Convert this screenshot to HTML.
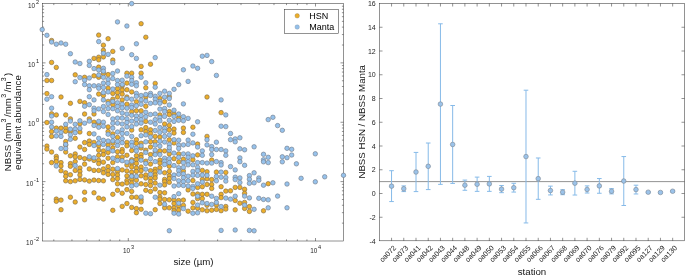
<!DOCTYPE html><html><head><meta charset="utf-8"><style>html,body{margin:0;padding:0;background:#fff;}body{width:685px;height:275px;overflow:hidden;}svg{display:block;}text{font-family:"Liberation Sans", sans-serif;}svg{will-change:transform;}</style></head><body><svg width="685" height="275" viewBox="0 0 685 275"><rect width="685" height="275" fill="#fff"/><g stroke="#262626" stroke-width="0.5" fill="none"><rect x="42.5" y="3.5" width="301.0" height="237.5"/><path d="M53.81 241.0V239.4M53.81 3.5V5.1"/><path d="M71.95 241.0V239.4M71.95 3.5V5.1"/><path d="M86.77 241.0V239.4M86.77 3.5V5.1"/><path d="M99.30 241.0V239.4M99.30 3.5V5.1"/><path d="M110.16 241.0V239.4M110.16 3.5V5.1"/><path d="M119.73 241.0V239.4M119.73 3.5V5.1"/><path d="M128.30 241.0V238.0M128.30 3.5V6.5"/><path d="M184.65 241.0V239.4M184.65 3.5V5.1"/><path d="M217.62 241.0V239.4M217.62 3.5V5.1"/><path d="M241.01 241.0V239.4M241.01 3.5V5.1"/><path d="M259.15 241.0V239.4M259.15 3.5V5.1"/><path d="M273.97 241.0V239.4M273.97 3.5V5.1"/><path d="M286.50 241.0V239.4M286.50 3.5V5.1"/><path d="M297.36 241.0V239.4M297.36 3.5V5.1"/><path d="M306.93 241.0V239.4M306.93 3.5V5.1"/><path d="M315.50 241.0V238.0M315.50 3.5V6.5"/><path d="M42.5 223.13H44.1M343.5 223.13H341.9"/><path d="M42.5 212.67H44.1M343.5 212.67H341.9"/><path d="M42.5 205.25H44.1M343.5 205.25H341.9"/><path d="M42.5 199.50H44.1M343.5 199.50H341.9"/><path d="M42.5 194.80H44.1M343.5 194.80H341.9"/><path d="M42.5 190.82H44.1M343.5 190.82H341.9"/><path d="M42.5 187.38H44.1M343.5 187.38H341.9"/><path d="M42.5 184.34H44.1M343.5 184.34H341.9"/><path d="M42.5 181.62H45.5M343.5 181.62H340.5"/><path d="M42.5 163.75H44.1M343.5 163.75H341.9"/><path d="M42.5 153.30H44.1M343.5 153.30H341.9"/><path d="M42.5 145.88H44.1M343.5 145.88H341.9"/><path d="M42.5 140.12H44.1M343.5 140.12H341.9"/><path d="M42.5 135.42H44.1M343.5 135.42H341.9"/><path d="M42.5 131.45H44.1M343.5 131.45H341.9"/><path d="M42.5 128.00H44.1M343.5 128.00H341.9"/><path d="M42.5 124.97H44.1M343.5 124.97H341.9"/><path d="M42.5 122.25H45.5M343.5 122.25H340.5"/><path d="M42.5 104.38H44.1M343.5 104.38H341.9"/><path d="M42.5 93.92H44.1M343.5 93.92H341.9"/><path d="M42.5 86.50H44.1M343.5 86.50H341.9"/><path d="M42.5 80.75H44.1M343.5 80.75H341.9"/><path d="M42.5 76.05H44.1M343.5 76.05H341.9"/><path d="M42.5 72.07H44.1M343.5 72.07H341.9"/><path d="M42.5 68.63H44.1M343.5 68.63H341.9"/><path d="M42.5 65.59H44.1M343.5 65.59H341.9"/><path d="M42.5 62.88H45.5M343.5 62.88H340.5"/><path d="M42.5 45.00H44.1M343.5 45.00H341.9"/><path d="M42.5 34.55H44.1M343.5 34.55H341.9"/><path d="M42.5 27.13H44.1M343.5 27.13H341.9"/><path d="M42.5 21.37H44.1M343.5 21.37H341.9"/><path d="M42.5 16.67H44.1M343.5 16.67H341.9"/><path d="M42.5 12.70H44.1M343.5 12.70H341.9"/><path d="M42.5 9.25H44.1M343.5 9.25H341.9"/><path d="M42.5 6.22H44.1M343.5 6.22H341.9"/></g><g><g fill="#ECAE2A" stroke="#806d4c" stroke-width="0.7" stroke-opacity="0.9"><circle cx="51.6" cy="40.5" r="2.25"/><circle cx="98.7" cy="35.1" r="2.25"/><circle cx="108.1" cy="38.7" r="2.25"/><circle cx="141.1" cy="23.7" r="2.25"/><circle cx="51.6" cy="62.4" r="2.25"/><circle cx="56.3" cy="67.4" r="2.25"/><circle cx="94.0" cy="58.4" r="2.25"/><circle cx="98.7" cy="57.2" r="2.25"/><circle cx="98.7" cy="59.8" r="2.25"/><circle cx="98.7" cy="67.1" r="2.25"/><circle cx="103.4" cy="45.2" r="2.25"/><circle cx="103.4" cy="50.3" r="2.25"/><circle cx="103.4" cy="56.9" r="2.25"/><circle cx="103.4" cy="73.5" r="2.25"/><circle cx="108.1" cy="74.6" r="2.25"/><circle cx="112.8" cy="51.4" r="2.25"/><circle cx="112.8" cy="60.1" r="2.25"/><circle cx="126.9" cy="73.2" r="2.25"/><circle cx="131.7" cy="73.2" r="2.25"/><circle cx="141.1" cy="66.4" r="2.25"/><circle cx="75.2" cy="74.8" r="2.25"/><circle cx="46.9" cy="80.5" r="2.25"/><circle cx="46.9" cy="93.6" r="2.25"/><circle cx="51.6" cy="80.5" r="2.25"/><circle cx="61.0" cy="97.0" r="2.25"/><circle cx="70.4" cy="103.3" r="2.25"/><circle cx="79.9" cy="101.4" r="2.25"/><circle cx="84.6" cy="77.3" r="2.25"/><circle cx="84.6" cy="102.8" r="2.25"/><circle cx="94.0" cy="75.8" r="2.25"/><circle cx="98.7" cy="77.3" r="2.25"/><circle cx="98.7" cy="94.1" r="2.25"/><circle cx="103.4" cy="95.5" r="2.25"/><circle cx="108.1" cy="88.2" r="2.25"/><circle cx="108.1" cy="101.4" r="2.25"/><circle cx="112.8" cy="93.4" r="2.25"/><circle cx="112.8" cy="99.2" r="2.25"/><circle cx="112.8" cy="104.8" r="2.25"/><circle cx="117.5" cy="88.7" r="2.25"/><circle cx="117.5" cy="92.6" r="2.25"/><circle cx="117.5" cy="97.0" r="2.25"/><circle cx="122.2" cy="86.1" r="2.25"/><circle cx="122.2" cy="90.1" r="2.25"/><circle cx="122.2" cy="94.1" r="2.25"/><circle cx="122.2" cy="99.9" r="2.25"/><circle cx="126.9" cy="83.1" r="2.25"/><circle cx="126.9" cy="89.7" r="2.25"/><circle cx="126.9" cy="97.0" r="2.25"/><circle cx="126.9" cy="104.2" r="2.25"/><circle cx="131.7" cy="91.9" r="2.25"/><circle cx="136.4" cy="101.8" r="2.25"/><circle cx="46.9" cy="122.5" r="2.25"/><circle cx="51.6" cy="113.8" r="2.25"/><circle cx="51.6" cy="131.6" r="2.25"/><circle cx="51.6" cy="136.4" r="2.25"/><circle cx="56.3" cy="114.9" r="2.25"/><circle cx="56.3" cy="128.1" r="2.25"/><circle cx="61.0" cy="128.1" r="2.25"/><circle cx="65.7" cy="114.9" r="2.25"/><circle cx="65.7" cy="128.1" r="2.25"/><circle cx="65.7" cy="131.3" r="2.25"/><circle cx="65.7" cy="141.5" r="2.25"/><circle cx="70.4" cy="118.9" r="2.25"/><circle cx="70.4" cy="131.3" r="2.25"/><circle cx="75.2" cy="138.3" r="2.25"/><circle cx="79.9" cy="123.7" r="2.25"/><circle cx="79.9" cy="132.0" r="2.25"/><circle cx="84.6" cy="114.0" r="2.25"/><circle cx="84.6" cy="142.6" r="2.25"/><circle cx="89.3" cy="118.9" r="2.25"/><circle cx="89.3" cy="133.5" r="2.25"/><circle cx="89.3" cy="141.0" r="2.25"/><circle cx="94.0" cy="114.0" r="2.25"/><circle cx="94.0" cy="122.2" r="2.25"/><circle cx="94.0" cy="142.4" r="2.25"/><circle cx="98.7" cy="123.2" r="2.25"/><circle cx="108.1" cy="126.9" r="2.25"/><circle cx="108.1" cy="131.6" r="2.25"/><circle cx="112.8" cy="133.9" r="2.25"/><circle cx="112.8" cy="143.1" r="2.25"/><circle cx="117.5" cy="137.4" r="2.25"/><circle cx="126.9" cy="142.4" r="2.25"/><circle cx="131.7" cy="111.6" r="2.25"/><circle cx="131.7" cy="130.1" r="2.25"/><circle cx="136.4" cy="110.8" r="2.25"/><circle cx="136.4" cy="139.7" r="2.25"/><circle cx="136.4" cy="143.3" r="2.25"/><circle cx="46.9" cy="146.1" r="2.25"/><circle cx="46.9" cy="149.0" r="2.25"/><circle cx="51.6" cy="152.0" r="2.25"/><circle cx="51.6" cy="162.6" r="2.25"/><circle cx="56.3" cy="156.4" r="2.25"/><circle cx="56.3" cy="158.7" r="2.25"/><circle cx="56.3" cy="161.6" r="2.25"/><circle cx="61.0" cy="162.6" r="2.25"/><circle cx="61.0" cy="166.0" r="2.25"/><circle cx="61.0" cy="170.7" r="2.25"/><circle cx="65.7" cy="145.1" r="2.25"/><circle cx="65.7" cy="152.0" r="2.25"/><circle cx="65.7" cy="172.8" r="2.25"/><circle cx="65.7" cy="176.3" r="2.25"/><circle cx="70.4" cy="155.8" r="2.25"/><circle cx="70.4" cy="163.6" r="2.25"/><circle cx="70.4" cy="166.3" r="2.25"/><circle cx="70.4" cy="174.8" r="2.25"/><circle cx="75.2" cy="153.9" r="2.25"/><circle cx="75.2" cy="156.8" r="2.25"/><circle cx="75.2" cy="161.6" r="2.25"/><circle cx="75.2" cy="170.4" r="2.25"/><circle cx="79.9" cy="147.0" r="2.25"/><circle cx="79.9" cy="157.5" r="2.25"/><circle cx="79.9" cy="168.0" r="2.25"/><circle cx="79.9" cy="171.4" r="2.25"/><circle cx="79.9" cy="175.0" r="2.25"/><circle cx="84.6" cy="149.5" r="2.25"/><circle cx="84.6" cy="158.7" r="2.25"/><circle cx="84.6" cy="164.1" r="2.25"/><circle cx="84.6" cy="179.9" r="2.25"/><circle cx="89.3" cy="144.4" r="2.25"/><circle cx="89.3" cy="159.0" r="2.25"/><circle cx="89.3" cy="168.9" r="2.25"/><circle cx="94.0" cy="160.4" r="2.25"/><circle cx="94.0" cy="170.4" r="2.25"/><circle cx="98.7" cy="145.8" r="2.25"/><circle cx="98.7" cy="150.2" r="2.25"/><circle cx="98.7" cy="155.3" r="2.25"/><circle cx="98.7" cy="160.4" r="2.25"/><circle cx="98.7" cy="163.6" r="2.25"/><circle cx="98.7" cy="170.4" r="2.25"/><circle cx="103.4" cy="150.9" r="2.25"/><circle cx="103.4" cy="154.6" r="2.25"/><circle cx="103.4" cy="162.2" r="2.25"/><circle cx="103.4" cy="168.9" r="2.25"/><circle cx="103.4" cy="172.8" r="2.25"/><circle cx="108.1" cy="145.1" r="2.25"/><circle cx="108.1" cy="152.4" r="2.25"/><circle cx="108.1" cy="158.2" r="2.25"/><circle cx="108.1" cy="166.6" r="2.25"/><circle cx="108.1" cy="170.7" r="2.25"/><circle cx="108.1" cy="174.4" r="2.25"/><circle cx="112.8" cy="148.0" r="2.25"/><circle cx="112.8" cy="162.6" r="2.25"/><circle cx="112.8" cy="169.2" r="2.25"/><circle cx="112.8" cy="174.4" r="2.25"/><circle cx="112.8" cy="179.6" r="2.25"/><circle cx="117.5" cy="151.7" r="2.25"/><circle cx="117.5" cy="156.8" r="2.25"/><circle cx="117.5" cy="171.4" r="2.25"/><circle cx="117.5" cy="175.0" r="2.25"/><circle cx="122.2" cy="149.5" r="2.25"/><circle cx="122.2" cy="152.0" r="2.25"/><circle cx="122.2" cy="157.2" r="2.25"/><circle cx="122.2" cy="169.9" r="2.25"/><circle cx="126.9" cy="145.8" r="2.25"/><circle cx="126.9" cy="155.3" r="2.25"/><circle cx="126.9" cy="165.1" r="2.25"/><circle cx="126.9" cy="170.9" r="2.25"/><circle cx="126.9" cy="175.9" r="2.25"/><circle cx="131.7" cy="150.5" r="2.25"/><circle cx="131.7" cy="159.7" r="2.25"/><circle cx="131.7" cy="163.4" r="2.25"/><circle cx="131.7" cy="167.0" r="2.25"/><circle cx="131.7" cy="172.1" r="2.25"/><circle cx="131.7" cy="176.2" r="2.25"/><circle cx="131.7" cy="179.2" r="2.25"/><circle cx="136.4" cy="155.8" r="2.25"/><circle cx="136.4" cy="159.7" r="2.25"/><circle cx="136.4" cy="163.4" r="2.25"/><circle cx="136.4" cy="168.0" r="2.25"/><circle cx="136.4" cy="171.4" r="2.25"/><circle cx="56.3" cy="199.1" r="2.25"/><circle cx="56.3" cy="201.3" r="2.25"/><circle cx="61.0" cy="200.1" r="2.25"/><circle cx="61.0" cy="209.7" r="2.25"/><circle cx="65.7" cy="180.8" r="2.25"/><circle cx="70.4" cy="181.6" r="2.25"/><circle cx="70.4" cy="197.2" r="2.25"/><circle cx="75.2" cy="180.8" r="2.25"/><circle cx="75.2" cy="202.0" r="2.25"/><circle cx="79.9" cy="179.4" r="2.25"/><circle cx="84.6" cy="192.2" r="2.25"/><circle cx="84.6" cy="199.8" r="2.25"/><circle cx="89.3" cy="181.1" r="2.25"/><circle cx="94.0" cy="180.1" r="2.25"/><circle cx="94.0" cy="192.8" r="2.25"/><circle cx="98.7" cy="180.5" r="2.25"/><circle cx="98.7" cy="198.1" r="2.25"/><circle cx="103.4" cy="180.8" r="2.25"/><circle cx="103.4" cy="199.1" r="2.25"/><circle cx="112.8" cy="194.3" r="2.25"/><circle cx="112.8" cy="210.3" r="2.25"/><circle cx="117.5" cy="178.6" r="2.25"/><circle cx="117.5" cy="183.8" r="2.25"/><circle cx="117.5" cy="190.3" r="2.25"/><circle cx="122.2" cy="184.1" r="2.25"/><circle cx="122.2" cy="193.2" r="2.25"/><circle cx="122.2" cy="206.4" r="2.25"/><circle cx="126.9" cy="180.5" r="2.25"/><circle cx="126.9" cy="183.0" r="2.25"/><circle cx="126.9" cy="189.6" r="2.25"/><circle cx="126.9" cy="203.5" r="2.25"/><circle cx="131.7" cy="183.0" r="2.25"/><circle cx="131.7" cy="191.4" r="2.25"/><circle cx="131.7" cy="197.2" r="2.25"/><circle cx="131.7" cy="207.4" r="2.25"/><circle cx="136.4" cy="180.1" r="2.25"/><circle cx="136.4" cy="197.2" r="2.25"/><circle cx="136.4" cy="208.6" r="2.25"/><circle cx="136.4" cy="212.7" r="2.25"/><circle cx="145.8" cy="37.2" r="2.25"/><circle cx="150.5" cy="64.2" r="2.25"/><circle cx="141.1" cy="73.2" r="2.25"/><circle cx="145.8" cy="87.8" r="2.25"/><circle cx="145.8" cy="97.0" r="2.25"/><circle cx="145.8" cy="106.3" r="2.25"/><circle cx="155.2" cy="83.4" r="2.25"/><circle cx="159.9" cy="98.5" r="2.25"/><circle cx="164.6" cy="101.8" r="2.25"/><circle cx="169.3" cy="96.6" r="2.25"/><circle cx="207.0" cy="97.0" r="2.25"/><circle cx="141.1" cy="110.8" r="2.25"/><circle cx="141.1" cy="129.8" r="2.25"/><circle cx="141.1" cy="143.2" r="2.25"/><circle cx="145.8" cy="121.4" r="2.25"/><circle cx="145.8" cy="127.6" r="2.25"/><circle cx="145.8" cy="131.6" r="2.25"/><circle cx="150.5" cy="129.8" r="2.25"/><circle cx="150.5" cy="133.5" r="2.25"/><circle cx="150.5" cy="141.7" r="2.25"/><circle cx="155.2" cy="136.4" r="2.25"/><circle cx="155.2" cy="141.7" r="2.25"/><circle cx="159.9" cy="114.9" r="2.25"/><circle cx="159.9" cy="137.1" r="2.25"/><circle cx="164.6" cy="124.0" r="2.25"/><circle cx="169.3" cy="111.6" r="2.25"/><circle cx="169.3" cy="114.5" r="2.25"/><circle cx="169.3" cy="125.4" r="2.25"/><circle cx="169.3" cy="129.8" r="2.25"/><circle cx="169.3" cy="139.8" r="2.25"/><circle cx="174.0" cy="114.0" r="2.25"/><circle cx="174.0" cy="129.1" r="2.25"/><circle cx="174.0" cy="133.0" r="2.25"/><circle cx="174.0" cy="142.9" r="2.25"/><circle cx="178.7" cy="117.8" r="2.25"/><circle cx="183.4" cy="128.1" r="2.25"/><circle cx="183.4" cy="132.4" r="2.25"/><circle cx="192.9" cy="127.2" r="2.25"/><circle cx="197.6" cy="144.1" r="2.25"/><circle cx="207.0" cy="136.4" r="2.25"/><circle cx="221.1" cy="112.6" r="2.25"/><circle cx="141.1" cy="148.0" r="2.25"/><circle cx="141.1" cy="154.6" r="2.25"/><circle cx="141.1" cy="157.5" r="2.25"/><circle cx="141.1" cy="167.0" r="2.25"/><circle cx="141.1" cy="170.7" r="2.25"/><circle cx="141.1" cy="175.8" r="2.25"/><circle cx="145.8" cy="150.2" r="2.25"/><circle cx="145.8" cy="161.2" r="2.25"/><circle cx="145.8" cy="175.0" r="2.25"/><circle cx="145.8" cy="178.1" r="2.25"/><circle cx="150.5" cy="147.0" r="2.25"/><circle cx="150.5" cy="154.6" r="2.25"/><circle cx="150.5" cy="164.1" r="2.25"/><circle cx="150.5" cy="170.7" r="2.25"/><circle cx="150.5" cy="178.1" r="2.25"/><circle cx="155.2" cy="152.4" r="2.25"/><circle cx="155.2" cy="169.2" r="2.25"/><circle cx="155.2" cy="171.8" r="2.25"/><circle cx="155.2" cy="175.0" r="2.25"/><circle cx="159.9" cy="150.9" r="2.25"/><circle cx="159.9" cy="160.1" r="2.25"/><circle cx="159.9" cy="163.1" r="2.25"/><circle cx="159.9" cy="167.7" r="2.25"/><circle cx="164.6" cy="150.9" r="2.25"/><circle cx="164.6" cy="172.8" r="2.25"/><circle cx="169.3" cy="153.9" r="2.25"/><circle cx="169.3" cy="166.3" r="2.25"/><circle cx="169.3" cy="171.4" r="2.25"/><circle cx="169.3" cy="175.8" r="2.25"/><circle cx="174.0" cy="158.7" r="2.25"/><circle cx="178.7" cy="153.9" r="2.25"/><circle cx="178.7" cy="161.9" r="2.25"/><circle cx="183.4" cy="159.3" r="2.25"/><circle cx="183.4" cy="171.0" r="2.25"/><circle cx="192.9" cy="159.7" r="2.25"/><circle cx="197.6" cy="154.9" r="2.25"/><circle cx="202.3" cy="170.4" r="2.25"/><circle cx="207.0" cy="171.8" r="2.25"/><circle cx="207.0" cy="178.8" r="2.25"/><circle cx="211.7" cy="160.1" r="2.25"/><circle cx="211.7" cy="179.6" r="2.25"/><circle cx="216.4" cy="172.1" r="2.25"/><circle cx="225.8" cy="172.4" r="2.25"/><circle cx="141.1" cy="183.8" r="2.25"/><circle cx="141.1" cy="199.5" r="2.25"/><circle cx="141.1" cy="202.0" r="2.25"/><circle cx="141.1" cy="209.3" r="2.25"/><circle cx="145.8" cy="184.5" r="2.25"/><circle cx="145.8" cy="190.3" r="2.25"/><circle cx="150.5" cy="181.6" r="2.25"/><circle cx="150.5" cy="185.5" r="2.25"/><circle cx="150.5" cy="191.4" r="2.25"/><circle cx="155.2" cy="177.9" r="2.25"/><circle cx="155.2" cy="183.0" r="2.25"/><circle cx="155.2" cy="188.9" r="2.25"/><circle cx="155.2" cy="209.7" r="2.25"/><circle cx="159.9" cy="192.5" r="2.25"/><circle cx="159.9" cy="196.9" r="2.25"/><circle cx="159.9" cy="199.1" r="2.25"/><circle cx="159.9" cy="203.5" r="2.25"/><circle cx="164.6" cy="179.4" r="2.25"/><circle cx="164.6" cy="181.6" r="2.25"/><circle cx="164.6" cy="184.9" r="2.25"/><circle cx="164.6" cy="192.8" r="2.25"/><circle cx="164.6" cy="199.5" r="2.25"/><circle cx="164.6" cy="207.8" r="2.25"/><circle cx="169.3" cy="178.6" r="2.25"/><circle cx="169.3" cy="182.3" r="2.25"/><circle cx="169.3" cy="199.8" r="2.25"/><circle cx="169.3" cy="207.8" r="2.25"/><circle cx="174.0" cy="199.8" r="2.25"/><circle cx="174.0" cy="203.6" r="2.25"/><circle cx="174.0" cy="207.8" r="2.25"/><circle cx="174.0" cy="210.8" r="2.25"/><circle cx="178.7" cy="200.5" r="2.25"/><circle cx="178.7" cy="205.9" r="2.25"/><circle cx="178.7" cy="210.0" r="2.25"/><circle cx="183.4" cy="200.1" r="2.25"/><circle cx="183.4" cy="205.4" r="2.25"/><circle cx="188.1" cy="189.9" r="2.25"/><circle cx="188.1" cy="211.2" r="2.25"/><circle cx="192.9" cy="180.5" r="2.25"/><circle cx="192.9" cy="194.0" r="2.25"/><circle cx="192.9" cy="202.4" r="2.25"/><circle cx="192.9" cy="207.9" r="2.25"/><circle cx="197.6" cy="187.4" r="2.25"/><circle cx="197.6" cy="194.0" r="2.25"/><circle cx="197.6" cy="198.6" r="2.25"/><circle cx="197.6" cy="208.2" r="2.25"/><circle cx="202.3" cy="179.4" r="2.25"/><circle cx="202.3" cy="186.7" r="2.25"/><circle cx="202.3" cy="194.3" r="2.25"/><circle cx="202.3" cy="198.6" r="2.25"/><circle cx="202.3" cy="209.8" r="2.25"/><circle cx="207.0" cy="184.5" r="2.25"/><circle cx="207.0" cy="194.3" r="2.25"/><circle cx="207.0" cy="205.3" r="2.25"/><circle cx="207.0" cy="210.8" r="2.25"/><circle cx="211.7" cy="184.5" r="2.25"/><circle cx="211.7" cy="188.4" r="2.25"/><circle cx="211.7" cy="210.2" r="2.25"/><circle cx="216.4" cy="205.0" r="2.25"/><circle cx="216.4" cy="209.4" r="2.25"/><circle cx="221.1" cy="186.7" r="2.25"/><circle cx="221.1" cy="194.3" r="2.25"/><circle cx="221.1" cy="197.6" r="2.25"/><circle cx="221.1" cy="210.7" r="2.25"/><circle cx="225.8" cy="191.1" r="2.25"/><circle cx="225.8" cy="206.5" r="2.25"/><circle cx="230.5" cy="190.8" r="2.25"/><circle cx="235.2" cy="187.4" r="2.25"/><circle cx="235.2" cy="200.5" r="2.25"/><circle cx="235.2" cy="209.8" r="2.25"/><circle cx="239.9" cy="187.4" r="2.25"/><circle cx="225.8" cy="209.1" r="2.25"/><circle cx="239.9" cy="203.2" r="2.25"/><circle cx="249.4" cy="206.6" r="2.25"/><circle cx="249.4" cy="211.4" r="2.25"/><circle cx="263.5" cy="210.8" r="2.25"/><circle cx="268.2" cy="183.7" r="2.25"/><circle cx="244.6" cy="189.3" r="2.25"/><circle cx="244.6" cy="193.3" r="2.25"/><circle cx="244.6" cy="202.4" r="2.25"/><circle cx="244.6" cy="208.4" r="2.25"/></g><g fill="#96C2EC" stroke="#737d89" stroke-width="0.7" stroke-opacity="0.9"><circle cx="42.2" cy="29.6" r="2.25"/><circle cx="46.9" cy="35.3" r="2.25"/><circle cx="117.5" cy="21.9" r="2.25"/><circle cx="126.9" cy="26.0" r="2.25"/><circle cx="131.7" cy="3.6" r="2.25"/><circle cx="51.6" cy="42.0" r="2.25"/><circle cx="56.3" cy="44.2" r="2.25"/><circle cx="61.0" cy="43.0" r="2.25"/><circle cx="65.7" cy="44.2" r="2.25"/><circle cx="70.4" cy="53.7" r="2.25"/><circle cx="75.2" cy="62.0" r="2.25"/><circle cx="79.9" cy="63.5" r="2.25"/><circle cx="89.3" cy="61.3" r="2.25"/><circle cx="89.3" cy="65.4" r="2.25"/><circle cx="94.0" cy="68.6" r="2.25"/><circle cx="98.7" cy="41.6" r="2.25"/><circle cx="98.7" cy="70.0" r="2.25"/><circle cx="103.4" cy="53.2" r="2.25"/><circle cx="103.4" cy="68.3" r="2.25"/><circle cx="103.4" cy="71.2" r="2.25"/><circle cx="108.1" cy="54.4" r="2.25"/><circle cx="112.8" cy="62.7" r="2.25"/><circle cx="112.8" cy="73.5" r="2.25"/><circle cx="117.5" cy="71.0" r="2.25"/><circle cx="122.2" cy="48.4" r="2.25"/><circle cx="131.7" cy="54.7" r="2.25"/><circle cx="136.4" cy="43.8" r="2.25"/><circle cx="136.4" cy="58.4" r="2.25"/><circle cx="46.9" cy="74.6" r="2.25"/><circle cx="46.9" cy="99.2" r="2.25"/><circle cx="51.6" cy="96.7" r="2.25"/><circle cx="51.6" cy="108.2" r="2.25"/><circle cx="75.2" cy="81.7" r="2.25"/><circle cx="79.9" cy="77.6" r="2.25"/><circle cx="84.6" cy="80.2" r="2.25"/><circle cx="84.6" cy="84.6" r="2.25"/><circle cx="84.6" cy="106.2" r="2.25"/><circle cx="89.3" cy="78.0" r="2.25"/><circle cx="89.3" cy="85.8" r="2.25"/><circle cx="89.3" cy="89.7" r="2.25"/><circle cx="89.3" cy="96.7" r="2.25"/><circle cx="89.3" cy="104.7" r="2.25"/><circle cx="94.0" cy="85.8" r="2.25"/><circle cx="94.0" cy="99.9" r="2.25"/><circle cx="94.0" cy="108.2" r="2.25"/><circle cx="98.7" cy="75.1" r="2.25"/><circle cx="98.7" cy="85.8" r="2.25"/><circle cx="98.7" cy="88.2" r="2.25"/><circle cx="98.7" cy="108.9" r="2.25"/><circle cx="103.4" cy="77.3" r="2.25"/><circle cx="103.4" cy="83.1" r="2.25"/><circle cx="103.4" cy="87.5" r="2.25"/><circle cx="103.4" cy="92.6" r="2.25"/><circle cx="103.4" cy="99.9" r="2.25"/><circle cx="103.4" cy="106.5" r="2.25"/><circle cx="108.1" cy="79.5" r="2.25"/><circle cx="108.1" cy="83.4" r="2.25"/><circle cx="108.1" cy="91.9" r="2.25"/><circle cx="108.1" cy="103.6" r="2.25"/><circle cx="112.8" cy="78.5" r="2.25"/><circle cx="112.8" cy="89.0" r="2.25"/><circle cx="112.8" cy="101.4" r="2.25"/><circle cx="112.8" cy="108.7" r="2.25"/><circle cx="117.5" cy="80.5" r="2.25"/><circle cx="117.5" cy="84.6" r="2.25"/><circle cx="117.5" cy="102.8" r="2.25"/><circle cx="117.5" cy="106.5" r="2.25"/><circle cx="122.2" cy="80.2" r="2.25"/><circle cx="122.2" cy="84.6" r="2.25"/><circle cx="122.2" cy="104.3" r="2.25"/><circle cx="126.9" cy="76.1" r="2.25"/><circle cx="126.9" cy="98.5" r="2.25"/><circle cx="126.9" cy="108.2" r="2.25"/><circle cx="131.7" cy="77.3" r="2.25"/><circle cx="131.7" cy="80.5" r="2.25"/><circle cx="131.7" cy="84.3" r="2.25"/><circle cx="131.7" cy="99.2" r="2.25"/><circle cx="131.7" cy="105.0" r="2.25"/><circle cx="131.7" cy="107.6" r="2.25"/><circle cx="136.4" cy="82.8" r="2.25"/><circle cx="136.4" cy="85.8" r="2.25"/><circle cx="136.4" cy="93.4" r="2.25"/><circle cx="136.4" cy="96.3" r="2.25"/><circle cx="136.4" cy="105.8" r="2.25"/><circle cx="141.1" cy="77.3" r="2.25"/><circle cx="51.6" cy="116.0" r="2.25"/><circle cx="51.6" cy="122.2" r="2.25"/><circle cx="51.6" cy="126.9" r="2.25"/><circle cx="56.3" cy="131.0" r="2.25"/><circle cx="56.3" cy="136.0" r="2.25"/><circle cx="61.0" cy="132.4" r="2.25"/><circle cx="61.0" cy="136.4" r="2.25"/><circle cx="65.7" cy="124.3" r="2.25"/><circle cx="65.7" cy="144.4" r="2.25"/><circle cx="70.4" cy="121.1" r="2.25"/><circle cx="70.4" cy="129.1" r="2.25"/><circle cx="70.4" cy="134.9" r="2.25"/><circle cx="70.4" cy="139.3" r="2.25"/><circle cx="75.2" cy="124.3" r="2.25"/><circle cx="75.2" cy="129.1" r="2.25"/><circle cx="75.2" cy="132.7" r="2.25"/><circle cx="79.9" cy="120.8" r="2.25"/><circle cx="79.9" cy="128.4" r="2.25"/><circle cx="84.6" cy="123.2" r="2.25"/><circle cx="89.3" cy="121.1" r="2.25"/><circle cx="94.0" cy="110.8" r="2.25"/><circle cx="94.0" cy="125.4" r="2.25"/><circle cx="94.0" cy="133.9" r="2.25"/><circle cx="98.7" cy="121.4" r="2.25"/><circle cx="98.7" cy="127.2" r="2.25"/><circle cx="98.7" cy="138.3" r="2.25"/><circle cx="98.7" cy="143.1" r="2.25"/><circle cx="103.4" cy="111.6" r="2.25"/><circle cx="103.4" cy="122.2" r="2.25"/><circle cx="103.4" cy="126.2" r="2.25"/><circle cx="103.4" cy="140.3" r="2.25"/><circle cx="108.1" cy="108.6" r="2.25"/><circle cx="108.1" cy="114.5" r="2.25"/><circle cx="108.1" cy="134.2" r="2.25"/><circle cx="108.1" cy="141.0" r="2.25"/><circle cx="112.8" cy="118.9" r="2.25"/><circle cx="112.8" cy="123.2" r="2.25"/><circle cx="112.8" cy="128.1" r="2.25"/><circle cx="112.8" cy="136.4" r="2.25"/><circle cx="112.8" cy="140.9" r="2.25"/><circle cx="117.5" cy="110.8" r="2.25"/><circle cx="117.5" cy="118.1" r="2.25"/><circle cx="117.5" cy="123.2" r="2.25"/><circle cx="117.5" cy="132.0" r="2.25"/><circle cx="117.5" cy="141.5" r="2.25"/><circle cx="122.2" cy="107.9" r="2.25"/><circle cx="122.2" cy="113.0" r="2.25"/><circle cx="122.2" cy="118.1" r="2.25"/><circle cx="122.2" cy="124.0" r="2.25"/><circle cx="122.2" cy="129.8" r="2.25"/><circle cx="122.2" cy="133.5" r="2.25"/><circle cx="122.2" cy="138.6" r="2.25"/><circle cx="122.2" cy="142.7" r="2.25"/><circle cx="126.9" cy="114.0" r="2.25"/><circle cx="126.9" cy="118.9" r="2.25"/><circle cx="126.9" cy="122.5" r="2.25"/><circle cx="126.9" cy="126.9" r="2.25"/><circle cx="126.9" cy="133.5" r="2.25"/><circle cx="131.7" cy="115.2" r="2.25"/><circle cx="131.7" cy="121.1" r="2.25"/><circle cx="131.7" cy="126.6" r="2.25"/><circle cx="131.7" cy="136.4" r="2.25"/><circle cx="131.7" cy="142.2" r="2.25"/><circle cx="136.4" cy="116.0" r="2.25"/><circle cx="136.4" cy="119.6" r="2.25"/><circle cx="136.4" cy="124.0" r="2.25"/><circle cx="56.3" cy="166.0" r="2.25"/><circle cx="61.0" cy="148.5" r="2.25"/><circle cx="65.7" cy="148.5" r="2.25"/><circle cx="75.2" cy="165.5" r="2.25"/><circle cx="89.3" cy="156.8" r="2.25"/><circle cx="94.0" cy="145.5" r="2.25"/><circle cx="94.0" cy="157.8" r="2.25"/><circle cx="103.4" cy="144.4" r="2.25"/><circle cx="108.1" cy="148.5" r="2.25"/><circle cx="112.8" cy="150.9" r="2.25"/><circle cx="112.8" cy="158.2" r="2.25"/><circle cx="117.5" cy="145.5" r="2.25"/><circle cx="117.5" cy="160.4" r="2.25"/><circle cx="117.5" cy="168.5" r="2.25"/><circle cx="122.2" cy="160.7" r="2.25"/><circle cx="126.9" cy="162.2" r="2.25"/><circle cx="131.7" cy="145.8" r="2.25"/><circle cx="131.7" cy="161.2" r="2.25"/><circle cx="136.4" cy="148.0" r="2.25"/><circle cx="136.4" cy="150.9" r="2.25"/><circle cx="136.4" cy="176.3" r="2.25"/><circle cx="131.7" cy="176.2" r="2.25"/><circle cx="131.7" cy="186.0" r="2.25"/><circle cx="136.4" cy="184.9" r="2.25"/><circle cx="155.2" cy="57.6" r="2.25"/><circle cx="183.4" cy="69.8" r="2.25"/><circle cx="192.9" cy="66.0" r="2.25"/><circle cx="197.6" cy="68.3" r="2.25"/><circle cx="202.3" cy="56.2" r="2.25"/><circle cx="207.0" cy="55.4" r="2.25"/><circle cx="211.7" cy="61.6" r="2.25"/><circle cx="216.4" cy="75.4" r="2.25"/><circle cx="141.1" cy="95.5" r="2.25"/><circle cx="141.1" cy="99.9" r="2.25"/><circle cx="141.1" cy="104.3" r="2.25"/><circle cx="145.8" cy="82.8" r="2.25"/><circle cx="145.8" cy="94.5" r="2.25"/><circle cx="145.8" cy="101.0" r="2.25"/><circle cx="150.5" cy="93.4" r="2.25"/><circle cx="150.5" cy="95.5" r="2.25"/><circle cx="150.5" cy="103.3" r="2.25"/><circle cx="155.2" cy="87.2" r="2.25"/><circle cx="155.2" cy="96.3" r="2.25"/><circle cx="155.2" cy="99.2" r="2.25"/><circle cx="155.2" cy="102.8" r="2.25"/><circle cx="159.9" cy="93.4" r="2.25"/><circle cx="159.9" cy="101.4" r="2.25"/><circle cx="159.9" cy="103.3" r="2.25"/><circle cx="159.9" cy="109.1" r="2.25"/><circle cx="164.6" cy="91.2" r="2.25"/><circle cx="164.6" cy="97.0" r="2.25"/><circle cx="164.6" cy="108.5" r="2.25"/><circle cx="169.3" cy="93.4" r="2.25"/><circle cx="169.3" cy="98.5" r="2.25"/><circle cx="169.3" cy="105.0" r="2.25"/><circle cx="174.0" cy="89.3" r="2.25"/><circle cx="174.0" cy="110.2" r="2.25"/><circle cx="178.7" cy="84.6" r="2.25"/><circle cx="183.4" cy="103.9" r="2.25"/><circle cx="188.1" cy="81.4" r="2.25"/><circle cx="221.1" cy="99.9" r="2.25"/><circle cx="141.1" cy="115.5" r="2.25"/><circle cx="141.1" cy="119.6" r="2.25"/><circle cx="141.1" cy="123.2" r="2.25"/><circle cx="141.1" cy="135.7" r="2.25"/><circle cx="145.8" cy="112.3" r="2.25"/><circle cx="145.8" cy="116.7" r="2.25"/><circle cx="145.8" cy="134.9" r="2.25"/><circle cx="145.8" cy="141.8" r="2.25"/><circle cx="150.5" cy="114.5" r="2.25"/><circle cx="150.5" cy="122.2" r="2.25"/><circle cx="150.5" cy="137.1" r="2.25"/><circle cx="155.2" cy="114.0" r="2.25"/><circle cx="155.2" cy="119.6" r="2.25"/><circle cx="155.2" cy="124.0" r="2.25"/><circle cx="155.2" cy="130.5" r="2.25"/><circle cx="159.9" cy="117.4" r="2.25"/><circle cx="159.9" cy="120.8" r="2.25"/><circle cx="159.9" cy="127.6" r="2.25"/><circle cx="159.9" cy="132.4" r="2.25"/><circle cx="159.9" cy="141.2" r="2.25"/><circle cx="164.6" cy="111.6" r="2.25"/><circle cx="164.6" cy="116.4" r="2.25"/><circle cx="164.6" cy="128.4" r="2.25"/><circle cx="164.6" cy="131.3" r="2.25"/><circle cx="164.6" cy="136.4" r="2.25"/><circle cx="164.6" cy="142.0" r="2.25"/><circle cx="169.3" cy="120.3" r="2.25"/><circle cx="169.3" cy="134.9" r="2.25"/><circle cx="174.0" cy="116.4" r="2.25"/><circle cx="174.0" cy="121.4" r="2.25"/><circle cx="174.0" cy="139.7" r="2.25"/><circle cx="178.7" cy="114.0" r="2.25"/><circle cx="178.7" cy="120.3" r="2.25"/><circle cx="178.7" cy="140.2" r="2.25"/><circle cx="183.4" cy="116.7" r="2.25"/><circle cx="183.4" cy="120.8" r="2.25"/><circle cx="183.4" cy="144.9" r="2.25"/><circle cx="188.1" cy="118.4" r="2.25"/><circle cx="188.1" cy="140.1" r="2.25"/><circle cx="192.9" cy="134.2" r="2.25"/><circle cx="192.9" cy="142.9" r="2.25"/><circle cx="197.6" cy="121.8" r="2.25"/><circle cx="207.0" cy="139.7" r="2.25"/><circle cx="207.0" cy="144.9" r="2.25"/><circle cx="216.4" cy="142.2" r="2.25"/><circle cx="221.1" cy="126.2" r="2.25"/><circle cx="225.8" cy="114.9" r="2.25"/><circle cx="225.8" cy="126.6" r="2.25"/><circle cx="230.5" cy="133.5" r="2.25"/><circle cx="230.5" cy="139.7" r="2.25"/><circle cx="235.2" cy="138.9" r="2.25"/><circle cx="235.2" cy="141.8" r="2.25"/><circle cx="239.9" cy="137.8" r="2.25"/><circle cx="141.1" cy="145.8" r="2.25"/><circle cx="141.1" cy="160.2" r="2.25"/><circle cx="145.8" cy="152.4" r="2.25"/><circle cx="145.8" cy="169.2" r="2.25"/><circle cx="150.5" cy="158.7" r="2.25"/><circle cx="150.5" cy="174.3" r="2.25"/><circle cx="155.2" cy="145.1" r="2.25"/><circle cx="155.2" cy="150.2" r="2.25"/><circle cx="155.2" cy="154.6" r="2.25"/><circle cx="155.2" cy="161.6" r="2.25"/><circle cx="159.9" cy="146.1" r="2.25"/><circle cx="159.9" cy="154.6" r="2.25"/><circle cx="159.9" cy="172.1" r="2.25"/><circle cx="164.6" cy="158.2" r="2.25"/><circle cx="164.6" cy="161.2" r="2.25"/><circle cx="169.3" cy="144.4" r="2.25"/><circle cx="169.3" cy="150.2" r="2.25"/><circle cx="169.3" cy="158.7" r="2.25"/><circle cx="169.3" cy="162.6" r="2.25"/><circle cx="174.0" cy="153.1" r="2.25"/><circle cx="174.0" cy="175.0" r="2.25"/><circle cx="178.7" cy="145.1" r="2.25"/><circle cx="178.7" cy="157.2" r="2.25"/><circle cx="178.7" cy="167.7" r="2.25"/><circle cx="178.7" cy="170.7" r="2.25"/><circle cx="178.7" cy="174.3" r="2.25"/><circle cx="183.4" cy="153.9" r="2.25"/><circle cx="183.4" cy="162.6" r="2.25"/><circle cx="183.4" cy="167.4" r="2.25"/><circle cx="183.4" cy="173.9" r="2.25"/><circle cx="183.4" cy="177.7" r="2.25"/><circle cx="188.1" cy="144.4" r="2.25"/><circle cx="188.1" cy="153.9" r="2.25"/><circle cx="188.1" cy="157.2" r="2.25"/><circle cx="188.1" cy="161.6" r="2.25"/><circle cx="188.1" cy="164.8" r="2.25"/><circle cx="188.1" cy="176.2" r="2.25"/><circle cx="192.9" cy="155.8" r="2.25"/><circle cx="192.9" cy="164.8" r="2.25"/><circle cx="192.9" cy="171.4" r="2.25"/><circle cx="192.9" cy="175.2" r="2.25"/><circle cx="197.6" cy="147.0" r="2.25"/><circle cx="197.6" cy="162.6" r="2.25"/><circle cx="197.6" cy="167.4" r="2.25"/><circle cx="197.6" cy="170.7" r="2.25"/><circle cx="197.6" cy="175.4" r="2.25"/><circle cx="202.3" cy="150.9" r="2.25"/><circle cx="202.3" cy="155.3" r="2.25"/><circle cx="202.3" cy="162.6" r="2.25"/><circle cx="202.3" cy="175.0" r="2.25"/><circle cx="207.0" cy="163.1" r="2.25"/><circle cx="207.0" cy="175.3" r="2.25"/><circle cx="211.7" cy="146.6" r="2.25"/><circle cx="211.7" cy="149.5" r="2.25"/><circle cx="211.7" cy="154.6" r="2.25"/><circle cx="211.7" cy="163.1" r="2.25"/><circle cx="216.4" cy="149.5" r="2.25"/><circle cx="216.4" cy="161.6" r="2.25"/><circle cx="216.4" cy="176.5" r="2.25"/><circle cx="221.1" cy="149.5" r="2.25"/><circle cx="221.1" cy="162.6" r="2.25"/><circle cx="221.1" cy="172.1" r="2.25"/><circle cx="221.1" cy="177.2" r="2.25"/><circle cx="225.8" cy="150.9" r="2.25"/><circle cx="225.8" cy="155.3" r="2.25"/><circle cx="230.5" cy="166.6" r="2.25"/><circle cx="235.2" cy="169.9" r="2.25"/><circle cx="235.2" cy="177.2" r="2.25"/><circle cx="239.9" cy="148.8" r="2.25"/><circle cx="141.1" cy="196.9" r="2.25"/><circle cx="145.8" cy="213.2" r="2.25"/><circle cx="150.5" cy="213.7" r="2.25"/><circle cx="155.2" cy="197.2" r="2.25"/><circle cx="159.9" cy="185.2" r="2.25"/><circle cx="164.6" cy="204.3" r="2.25"/><circle cx="174.0" cy="178.6" r="2.25"/><circle cx="174.0" cy="186.0" r="2.25"/><circle cx="174.0" cy="196.6" r="2.25"/><circle cx="174.0" cy="213.2" r="2.25"/><circle cx="178.7" cy="180.8" r="2.25"/><circle cx="178.7" cy="185.2" r="2.25"/><circle cx="178.7" cy="193.7" r="2.25"/><circle cx="178.7" cy="203.2" r="2.25"/><circle cx="183.4" cy="181.6" r="2.25"/><circle cx="183.4" cy="185.5" r="2.25"/><circle cx="183.4" cy="208.6" r="2.25"/><circle cx="188.1" cy="180.8" r="2.25"/><circle cx="188.1" cy="186.0" r="2.25"/><circle cx="192.9" cy="186.4" r="2.25"/><circle cx="192.9" cy="188.4" r="2.25"/><circle cx="192.9" cy="213.3" r="2.25"/><circle cx="197.6" cy="183.8" r="2.25"/><circle cx="197.6" cy="196.2" r="2.25"/><circle cx="197.6" cy="205.1" r="2.25"/><circle cx="197.6" cy="212.8" r="2.25"/><circle cx="202.3" cy="182.0" r="2.25"/><circle cx="202.3" cy="202.8" r="2.25"/><circle cx="207.0" cy="203.5" r="2.25"/><circle cx="211.7" cy="196.2" r="2.25"/><circle cx="211.7" cy="204.4" r="2.25"/><circle cx="216.4" cy="180.8" r="2.25"/><circle cx="216.4" cy="198.4" r="2.25"/><circle cx="216.4" cy="202.4" r="2.25"/><circle cx="221.1" cy="206.5" r="2.25"/><circle cx="225.8" cy="177.6" r="2.25"/><circle cx="225.8" cy="198.1" r="2.25"/><circle cx="230.5" cy="199.1" r="2.25"/><circle cx="235.2" cy="196.2" r="2.25"/><circle cx="239.9" cy="177.9" r="2.25"/><circle cx="169.3" cy="230.7" r="2.25"/><circle cx="178.7" cy="214.0" r="2.25"/><circle cx="221.1" cy="230.4" r="2.25"/><circle cx="235.2" cy="230.0" r="2.25"/><circle cx="174.0" cy="165.6" r="2.25"/><circle cx="178.7" cy="148.4" r="2.25"/><circle cx="145.8" cy="163.4" r="2.25"/><circle cx="164.6" cy="164.5" r="2.25"/><circle cx="169.3" cy="147.6" r="2.25"/><circle cx="239.9" cy="157.9" r="2.25"/><circle cx="239.9" cy="161.7" r="2.25"/><circle cx="221.1" cy="165.0" r="2.25"/><circle cx="225.8" cy="181.1" r="2.25"/><circle cx="235.2" cy="179.6" r="2.25"/><circle cx="239.9" cy="182.5" r="2.25"/><circle cx="268.2" cy="119.6" r="2.25"/><circle cx="272.9" cy="117.3" r="2.25"/><circle cx="277.6" cy="125.6" r="2.25"/><circle cx="282.3" cy="130.3" r="2.25"/><circle cx="244.6" cy="149.8" r="2.25"/><circle cx="244.6" cy="165.3" r="2.25"/><circle cx="254.1" cy="146.8" r="2.25"/><circle cx="254.1" cy="172.8" r="2.25"/><circle cx="258.8" cy="178.0" r="2.25"/><circle cx="263.5" cy="154.3" r="2.25"/><circle cx="263.5" cy="159.8" r="2.25"/><circle cx="263.5" cy="161.8" r="2.25"/><circle cx="268.2" cy="157.3" r="2.25"/><circle cx="268.2" cy="162.6" r="2.25"/><circle cx="282.3" cy="156.8" r="2.25"/><circle cx="282.3" cy="161.8" r="2.25"/><circle cx="287.0" cy="148.3" r="2.25"/><circle cx="287.0" cy="157.7" r="2.25"/><circle cx="291.7" cy="149.3" r="2.25"/><circle cx="291.7" cy="155.0" r="2.25"/><circle cx="296.4" cy="163.8" r="2.25"/><circle cx="301.1" cy="178.3" r="2.25"/><circle cx="315.3" cy="153.8" r="2.25"/><circle cx="324.7" cy="176.8" r="2.25"/><circle cx="343.5" cy="175.3" r="2.25"/><circle cx="249.4" cy="175.6" r="2.25"/><circle cx="249.4" cy="179.2" r="2.25"/><circle cx="249.4" cy="183.3" r="2.25"/><circle cx="249.4" cy="197.9" r="2.25"/><circle cx="254.1" cy="182.8" r="2.25"/><circle cx="258.8" cy="180.3" r="2.25"/><circle cx="258.8" cy="198.3" r="2.25"/><circle cx="263.5" cy="185.2" r="2.25"/><circle cx="263.5" cy="199.4" r="2.25"/><circle cx="268.2" cy="199.8" r="2.25"/><circle cx="268.2" cy="207.8" r="2.25"/><circle cx="272.9" cy="182.8" r="2.25"/><circle cx="277.6" cy="196.1" r="2.25"/><circle cx="287.0" cy="184.0" r="2.25"/><circle cx="287.0" cy="207.8" r="2.25"/><circle cx="315.3" cy="181.8" r="2.25"/><circle cx="244.6" cy="196.1" r="2.25"/><circle cx="244.6" cy="205.1" r="2.25"/><circle cx="254.1" cy="209.3" r="2.25"/><circle cx="249.4" cy="230.4" r="2.25"/><circle cx="254.1" cy="230.8" r="2.25"/></g></g><text x="39.0" y="7.6" font-size="6.4" fill="#1e1e1e" text-anchor="end">10<tspan dx="0.8" dy="-4" font-size="5.6">2</tspan></text><text x="39.0" y="67.0" font-size="6.4" fill="#1e1e1e" text-anchor="end">10<tspan dx="0.8" dy="-4" font-size="5.6">1</tspan></text><text x="39.0" y="126.3" font-size="6.4" fill="#1e1e1e" text-anchor="end">10<tspan dx="0.8" dy="-4" font-size="5.6">0</tspan></text><text x="39.0" y="185.7" font-size="6.4" fill="#1e1e1e" text-anchor="end">10<tspan dx="0.8" dy="-4" font-size="5.6">-1</tspan></text><text x="39.0" y="245.1" font-size="6.4" fill="#1e1e1e" text-anchor="end">10<tspan dx="0.8" dy="-4" font-size="5.6">-2</tspan></text><text x="128.5" y="252.8" font-size="6.4" fill="#1e1e1e" text-anchor="middle">10<tspan dx="0.8" dy="-4" font-size="5.6">3</tspan></text><text x="315.7" y="252.8" font-size="6.4" fill="#1e1e1e" text-anchor="middle">10<tspan dx="0.8" dy="-4" font-size="5.6">4</tspan></text><text x="193.5" y="265" font-size="9.7" fill="#141414" text-anchor="middle">size (µm)</text><text transform="translate(10.6 122) rotate(-90)" font-size="9.7" fill="#141414" text-anchor="middle">NBSS (mm<tspan dx="0.3" dy="-4.2" font-size="7">3</tspan><tspan dx="1.6" dy="4.2">/mm</tspan><tspan dx="0.3" dy="-4.2" font-size="7">3</tspan><tspan dx="1.6" dy="4.2">/m</tspan><tspan dx="0.3" dy="-4.2" font-size="7">3</tspan><tspan dx="1.3" dy="4.2">)</tspan></text><text transform="translate(21.2 122.6) rotate(-90)" font-size="9.7" fill="#141414" text-anchor="middle">equivalent abundance</text><rect x="284.5" y="9.5" width="54" height="24" fill="#fff" stroke="#262626" stroke-width="0.5"/><circle cx="297.2" cy="15.8" r="2.25" fill="#ECAE2A" stroke="#85724f" stroke-width="0.45" stroke-opacity="0.75"/><circle cx="297.2" cy="27" r="2.25" fill="#94C0EA" stroke="#7d8c9c" stroke-width="0.45" stroke-opacity="0.75"/><text x="309.3" y="19" font-size="9" fill="#000">HSN</text><text x="309.3" y="30.2" font-size="9" fill="#000">Manta</text><path d="M379.5 181.62H684.5" stroke="#262626" stroke-width="0.5" fill="none"/><g stroke="#86BAE8" stroke-width="1" fill="none"><path d="M391.55 170.70V201.57M389.25 170.70H393.85M389.25 201.57H393.85"/><path d="M403.77 185.90V191.60M401.47 185.90H406.07M401.47 191.60H406.07"/><path d="M416.00 152.41V191.60M413.70 152.41H418.30M413.70 191.60H418.30"/><path d="M428.22 143.03V189.58M425.92 143.03H430.52M425.92 189.58H430.52"/><path d="M440.44 23.81V184.36M438.14 23.81H442.74M438.14 184.36H442.74"/><path d="M452.66 105.51V183.41M450.36 105.51H454.96M450.36 183.41H454.96"/><path d="M464.88 180.08V190.29M462.58 180.08H467.18M462.58 190.29H467.18"/><path d="M477.11 177.11V191.36M474.81 177.11H479.41M474.81 191.36H479.41"/><path d="M489.33 176.40V191.36M487.03 176.40H491.63M487.03 191.36H491.63"/><path d="M501.55 185.54V192.67M499.25 185.54H503.85M499.25 192.67H503.85"/><path d="M513.77 183.29V192.07M511.47 183.29H516.07M511.47 192.07H516.07"/><path d="M525.99 90.19V222.95M523.69 90.19H528.29M523.69 222.95H528.29"/><path d="M538.22 157.99V199.32M535.92 157.99H540.52M535.92 199.32H540.52"/><path d="M550.44 186.14V194.93M548.14 186.14H552.74M548.14 194.93H552.74"/><path d="M562.66 189.70V194.69M560.36 189.70H564.96M560.36 194.69H564.96"/><path d="M574.88 171.29V195.04M572.58 171.29H577.18M572.58 195.04H577.18"/><path d="M587.10 185.90V193.03M584.80 185.90H589.40M584.80 193.03H589.40"/><path d="M599.33 178.54V193.26M597.03 178.54H601.63M597.03 193.26H601.63"/><path d="M611.55 188.63V193.86M609.25 188.63H613.85M609.25 193.86H613.85"/><path d="M623.77 156.57V205.49M621.47 156.57H626.07M621.47 205.49H626.07"/><path d="M635.99 185.19V193.97M633.69 185.19H638.29M633.69 193.97H638.29"/><path d="M648.21 191.48V192.91M645.91 191.48H650.51M645.91 192.91H650.51"/><path d="M660.44 191.78V193.20M658.14 191.78H662.74M658.14 193.20H662.74"/><path d="M672.66 190.53V191.96M670.36 190.53H674.96M670.36 191.96H674.96"/></g><g fill="#9BC3EA" stroke="#7a8490" stroke-width="0.6"><circle cx="391.55" cy="186.14" r="2.3"/><circle cx="403.77" cy="188.75" r="2.3"/><circle cx="416.00" cy="172.01" r="2.3"/><circle cx="428.22" cy="166.31" r="2.3"/><circle cx="440.44" cy="104.08" r="2.3"/><circle cx="452.66" cy="144.46" r="2.3"/><circle cx="464.88" cy="185.19" r="2.3"/><circle cx="477.11" cy="184.24" r="2.3"/><circle cx="489.33" cy="183.88" r="2.3"/><circle cx="501.55" cy="189.11" r="2.3"/><circle cx="513.77" cy="187.68" r="2.3"/><circle cx="525.99" cy="156.57" r="2.3"/><circle cx="538.22" cy="178.66" r="2.3"/><circle cx="550.44" cy="190.53" r="2.3"/><circle cx="562.66" cy="192.19" r="2.3"/><circle cx="574.88" cy="183.17" r="2.3"/><circle cx="587.10" cy="189.46" r="2.3"/><circle cx="599.33" cy="185.90" r="2.3"/><circle cx="611.55" cy="191.24" r="2.3"/><circle cx="623.77" cy="181.03" r="2.3"/><circle cx="635.99" cy="189.58" r="2.3"/><circle cx="648.21" cy="192.19" r="2.3"/><circle cx="660.44" cy="192.49" r="2.3"/><circle cx="672.66" cy="191.24" r="2.3"/></g><g stroke="#262626" stroke-width="0.5" fill="none"><rect x="379.5" y="3.5" width="305.0" height="237.30"/><path d="M379.5 217.25H382.5M684.5 217.25H681.5"/><path d="M379.5 193.50H382.5M684.5 193.50H681.5"/><path d="M379.5 169.75H382.5M684.5 169.75H681.5"/><path d="M379.5 146.00H382.5M684.5 146.00H681.5"/><path d="M379.5 122.25H382.5M684.5 122.25H681.5"/><path d="M379.5 98.50H382.5M684.5 98.50H681.5"/><path d="M379.5 74.75H382.5M684.5 74.75H681.5"/><path d="M379.5 51.00H382.5M684.5 51.00H681.5"/><path d="M379.5 27.25H382.5M684.5 27.25H681.5"/><path d="M391.55 240.8V237.8M391.55 3.5V6.5"/><path d="M403.77 240.8V237.8M403.77 3.5V6.5"/><path d="M416.00 240.8V237.8M416.00 3.5V6.5"/><path d="M428.22 240.8V237.8M428.22 3.5V6.5"/><path d="M440.44 240.8V237.8M440.44 3.5V6.5"/><path d="M452.66 240.8V237.8M452.66 3.5V6.5"/><path d="M464.88 240.8V237.8M464.88 3.5V6.5"/><path d="M477.11 240.8V237.8M477.11 3.5V6.5"/><path d="M489.33 240.8V237.8M489.33 3.5V6.5"/><path d="M501.55 240.8V237.8M501.55 3.5V6.5"/><path d="M513.77 240.8V237.8M513.77 3.5V6.5"/><path d="M525.99 240.8V237.8M525.99 3.5V6.5"/><path d="M538.22 240.8V237.8M538.22 3.5V6.5"/><path d="M550.44 240.8V237.8M550.44 3.5V6.5"/><path d="M562.66 240.8V237.8M562.66 3.5V6.5"/><path d="M574.88 240.8V237.8M574.88 3.5V6.5"/><path d="M587.10 240.8V237.8M587.10 3.5V6.5"/><path d="M599.33 240.8V237.8M599.33 3.5V6.5"/><path d="M611.55 240.8V237.8M611.55 3.5V6.5"/><path d="M623.77 240.8V237.8M623.77 3.5V6.5"/><path d="M635.99 240.8V237.8M635.99 3.5V6.5"/><path d="M648.21 240.8V237.8M648.21 3.5V6.5"/><path d="M660.44 240.8V237.8M660.44 3.5V6.5"/><path d="M672.66 240.8V237.8M672.66 3.5V6.5"/></g><text x="375.7" y="243.5" font-size="7" fill="#1e1e1e" text-anchor="end">-4</text><text x="375.7" y="219.8" font-size="7" fill="#1e1e1e" text-anchor="end">-2</text><text x="375.7" y="196.0" font-size="7" fill="#1e1e1e" text-anchor="end">0</text><text x="375.7" y="172.2" font-size="7" fill="#1e1e1e" text-anchor="end">2</text><text x="375.7" y="148.5" font-size="7" fill="#1e1e1e" text-anchor="end">4</text><text x="375.7" y="124.8" font-size="7" fill="#1e1e1e" text-anchor="end">6</text><text x="375.7" y="101.0" font-size="7" fill="#1e1e1e" text-anchor="end">8</text><text x="375.7" y="77.2" font-size="7" fill="#1e1e1e" text-anchor="end">10</text><text x="375.7" y="53.5" font-size="7" fill="#1e1e1e" text-anchor="end">12</text><text x="375.7" y="29.8" font-size="7" fill="#1e1e1e" text-anchor="end">14</text><text x="375.7" y="6.0" font-size="7" fill="#1e1e1e" text-anchor="end">16</text><text transform="translate(396.55 248.4) rotate(-45)" font-size="7.2" fill="#1e1e1e" text-anchor="end">oa072</text><text transform="translate(408.77 248.4) rotate(-45)" font-size="7.2" fill="#1e1e1e" text-anchor="end">oa073</text><text transform="translate(421.00 248.4) rotate(-45)" font-size="7.2" fill="#1e1e1e" text-anchor="end">oa041</text><text transform="translate(433.22 248.4) rotate(-45)" font-size="7.2" fill="#1e1e1e" text-anchor="end">oa042</text><text transform="translate(445.44 248.4) rotate(-45)" font-size="7.2" fill="#1e1e1e" text-anchor="end">oa043</text><text transform="translate(457.66 248.4) rotate(-45)" font-size="7.2" fill="#1e1e1e" text-anchor="end">oa044</text><text transform="translate(469.88 248.4) rotate(-45)" font-size="7.2" fill="#1e1e1e" text-anchor="end">oa048</text><text transform="translate(482.11 248.4) rotate(-45)" font-size="7.2" fill="#1e1e1e" text-anchor="end">oa049</text><text transform="translate(494.33 248.4) rotate(-45)" font-size="7.2" fill="#1e1e1e" text-anchor="end">oa050</text><text transform="translate(506.55 248.4) rotate(-45)" font-size="7.2" fill="#1e1e1e" text-anchor="end">oa053</text><text transform="translate(518.77 248.4) rotate(-45)" font-size="7.2" fill="#1e1e1e" text-anchor="end">oa054</text><text transform="translate(530.99 248.4) rotate(-45)" font-size="7.2" fill="#1e1e1e" text-anchor="end">oa055</text><text transform="translate(543.22 248.4) rotate(-45)" font-size="7.2" fill="#1e1e1e" text-anchor="end">oa066</text><text transform="translate(555.44 248.4) rotate(-45)" font-size="7.2" fill="#1e1e1e" text-anchor="end">oa067</text><text transform="translate(567.66 248.4) rotate(-45)" font-size="7.2" fill="#1e1e1e" text-anchor="end">oa068</text><text transform="translate(579.88 248.4) rotate(-45)" font-size="7.2" fill="#1e1e1e" text-anchor="end">oa069</text><text transform="translate(592.10 248.4) rotate(-45)" font-size="7.2" fill="#1e1e1e" text-anchor="end">oa070</text><text transform="translate(604.33 248.4) rotate(-45)" font-size="7.2" fill="#1e1e1e" text-anchor="end">oa076</text><text transform="translate(616.55 248.4) rotate(-45)" font-size="7.2" fill="#1e1e1e" text-anchor="end">oa079</text><text transform="translate(628.77 248.4) rotate(-45)" font-size="7.2" fill="#1e1e1e" text-anchor="end">oa092</text><text transform="translate(640.99 248.4) rotate(-45)" font-size="7.2" fill="#1e1e1e" text-anchor="end">oa095</text><text transform="translate(653.21 248.4) rotate(-45)" font-size="7.2" fill="#1e1e1e" text-anchor="end">oa127</text><text transform="translate(665.44 248.4) rotate(-45)" font-size="7.2" fill="#1e1e1e" text-anchor="end">oa129</text><text transform="translate(677.66 248.4) rotate(-45)" font-size="7.2" fill="#1e1e1e" text-anchor="end">oa130</text><text x="532.0" y="274.5" font-size="9.7" fill="#141414" text-anchor="middle">station</text><text transform="translate(364.5 121.8) rotate(-90)" font-size="9.7" fill="#141414" text-anchor="middle">NBSS HSN / NBSS Manta</text></svg></body></html>
